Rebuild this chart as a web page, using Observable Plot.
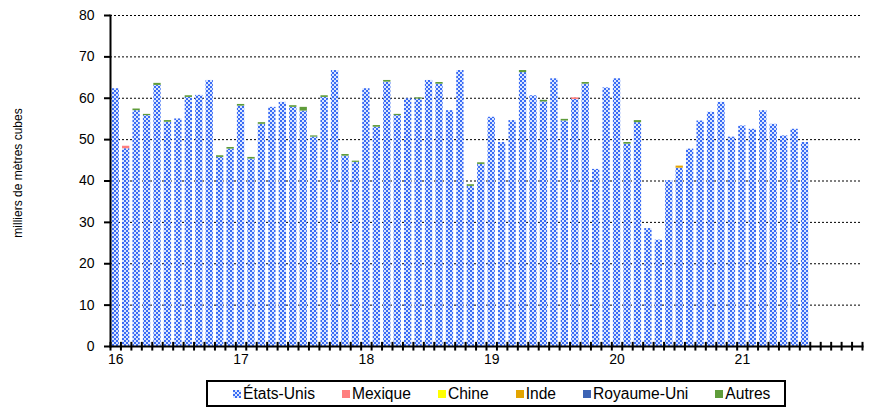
<!DOCTYPE html>
<html>
<head>
<meta charset="utf-8">
<script src="https://cdn.jsdelivr.net/npm/d3@7"></script>
<script src="https://cdn.jsdelivr.net/npm/@observablehq/plot@0.6"></script>
<style>
  html, body { margin: 0; padding: 0; background: #fff; }
  body { width: 875px; height: 411px; position: relative; font-family: "Liberation Sans", Arial, sans-serif; }
  #legend {
    position: absolute; left: 206px; top: 380px; width: 580px; height: 27px;
    box-sizing: border-box; border: 2px solid #000;
    display: flex; align-items: center; padding-left: 25px; gap: 27px;
    font-size: 15.6px; color: #000;
  }
  .item { display: flex; align-items: center; white-space: nowrap; }
  .item svg { margin-right: 2px; }
</style>
</head>
<body>
<div id="chart"></div>
<div id="legend"></div>
<script>
// ---- data ----
const years = ["16", "17", "18", "19", "20", "21"];
const series = ["États-Unis", "Mexique", "Chine", "Inde", "Royaume-Uni", "Autres"];
const seriesColors = ["url(#usHatch)", "#ff7f7f", "#ffff00", "#e3a400", "#3d64b5", "#5f9c3a"];
const yTicks = [0, 10, 20, 30, 40, 50, 60, 70, 80];
const yLabel = "milliers de mètres cubes";

// monthly values, Jan 2016 .. Jul 2021 (67 months)
const etatsUnis = [
  62.3, 47.8, 57.0, 55.8, 63.1, 54.2, 55.0, 60.2, 60.7, 64.3, 45.7, 47.7,
  58.1, 45.3, 53.7, 57.8, 59.0, 57.8, 56.9, 50.6, 60.2, 66.7, 46.0, 44.5,
  62.3, 53.0, 63.9, 55.8, 59.9, 59.8, 64.3, 63.4, 57.0, 66.7, 38.7, 44.0,
  55.4, 49.3, 54.6, 66.2, 60.6, 59.1, 64.7, 54.5, 59.7, 63.4, 42.8, 62.5,
  64.7, 48.9, 54.1, 28.5, 25.7, 40.1, 43.1, 47.7, 54.5, 56.6, 59.0, 50.6,
  53.3, 52.5, 57.0, 53.7, 50.9, 52.5, 49.3
];
const mexique = [
  0, 0.6, 0, 0, 0, 0, 0, 0, 0, 0, 0, 0,
  0, 0, 0, 0, 0, 0, 0, 0, 0, 0, 0, 0,
  0, 0, 0, 0, 0, 0, 0, 0, 0, 0, 0, 0,
  0, 0, 0, 0, 0, 0, 0, 0, 0.4, 0, 0, 0,
  0, 0, 0, 0, 0, 0, 0, 0, 0, 0, 0, 0,
  0, 0, 0, 0, 0, 0, 0
];
const chine = [
  0, 0, 0, 0, 0, 0, 0, 0, 0, 0, 0, 0,
  0, 0, 0, 0, 0, 0, 0, 0, 0, 0, 0, 0,
  0, 0, 0, 0, 0, 0, 0, 0, 0, 0, 0, 0,
  0, 0, 0, 0, 0, 0, 0, 0, 0, 0, 0, 0,
  0, 0, 0, 0, 0, 0, 0, 0, 0, 0, 0, 0,
  0, 0, 0, 0, 0, 0, 0
];
const inde = [
  0, 0, 0, 0, 0, 0, 0, 0, 0, 0, 0, 0,
  0, 0, 0, 0, 0, 0, 0, 0, 0, 0, 0, 0,
  0, 0, 0, 0, 0, 0, 0, 0, 0, 0, 0, 0,
  0, 0, 0, 0, 0, 0, 0, 0, 0, 0, 0, 0,
  0, 0, 0, 0, 0, 0, 0.5, 0, 0, 0, 0, 0,
  0, 0, 0, 0, 0, 0, 0
];
const royaumeUni = [
  0, 0, 0, 0, 0, 0, 0, 0, 0, 0, 0, 0,
  0, 0, 0, 0, 0, 0, 0, 0, 0, 0, 0, 0,
  0, 0, 0, 0, 0, 0, 0, 0, 0, 0, 0, 0,
  0, 0, 0, 0, 0, 0, 0, 0, 0, 0, 0, 0,
  0, 0, 0, 0, 0, 0, 0, 0, 0, 0, 0, 0,
  0, 0, 0, 0, 0, 0, 0
];
const autres = [
  0, 0, 0.4, 0.3, 0.5, 0.4, 0, 0.4, 0, 0, 0.4, 0.4,
  0.4, 0.4, 0.4, 0, 0, 0.4, 0.9, 0.3, 0.4, 0, 0.4, 0.3,
  0, 0.4, 0.4, 0.3, 0, 0.3, 0, 0.4, 0, 0, 0.4, 0.4,
  0, 0, 0, 0.5, 0, 0.4, 0, 0.4, 0, 0.4, 0, 0,
  0, 0.4, 0.5, 0, 0, 0, 0, 0, 0, 0, 0, 0,
  0, 0, 0, 0, 0, 0, 0
];

// ---- build table ----
const monthKeys = years.flatMap(y => d3.range(1, 13).map(m => `${y}-${String(m).padStart(2, "0")}`));
const janKeys = monthKeys.filter(k => k.endsWith("-01"));
const valuesBySeries = [etatsUnis, mexique, chine, inde, royaumeUni, autres];
const rows = series.flatMap((s, si) =>
  valuesBySeries[si].map((v, i) => ({month: monthKeys[i], series: s, value: v}))
);

const W = 875, H = 372, ML = 110, MR = 13, MT = 15, MB = 26;
const step = (W - ML - MR) / monthKeys.length;

const chart = Plot.plot({
  width: W, height: H,
  marginLeft: ML, marginRight: MR, marginTop: MT, marginBottom: MB,
  style: {fontFamily: "'Liberation Sans', Arial, sans-serif", fontSize: "14px", color: "#000", background: "#fff", overflow: "visible"},
  x: {type: "band", domain: monthKeys, paddingInner: 0.3, paddingOuter: 0.15, align: 0.5},
  y: {domain: [0, 80]},
  color: {domain: series, range: seriesColors},
  marks: [
    Plot.ruleY(yTicks.filter(t => t > 0), {y: d => d, stroke: "#000", strokeWidth: 1, strokeDasharray: "2,2"}),
    Plot.barY(rows, {x: "month", y: "value", fill: "series", order: series}),
    Plot.ruleX(monthKeys, {x: d => d, y1: -1.1, y2: 1.0, dx: -step / 2, stroke: "#000", strokeWidth: 2}),
    Plot.ruleX([monthKeys[monthKeys.length - 1]], {x: d => d, y1: -1.1, y2: 1.0, dx: step / 2, stroke: "#000", strokeWidth: 2}),
    Plot.frame({anchor: "left", stroke: "#000", strokeWidth: 2}),
    Plot.frame({anchor: "bottom", stroke: "#000", strokeWidth: 2}),
    Plot.axisY({ticks: yTicks, tickSize: 6, tickPadding: 10, strokeWidth: 2, label: null}),
    Plot.axisX({ticks: janKeys, tickFormat: k => k.slice(0, 2), tickSize: 0, tickPadding: 8, label: null}),
    Plot.text([yLabel], {frameAnchor: "left", text: d => d, dx: -92, dy: -8, rotate: -90, fontSize: 12, textAnchor: "middle"})
  ]
});

// hatch pattern for États-Unis
const defs = d3.select(chart).insert("defs", ":first-child");
const pat = defs.append("pattern").attr("id", "usHatch").attr("patternUnits", "userSpaceOnUse")
  .attr("width", 4).attr("height", 4);
pat.append("rect").attr("width", 4).attr("height", 4).attr("fill", "#dbe6ff");
pat.append("rect").attr("x", 0).attr("y", 0).attr("width", 2).attr("height", 2).attr("fill", "#3a6cf4");
pat.append("rect").attr("x", 2).attr("y", 2).attr("width", 2).attr("height", 2).attr("fill", "#3a6cf4");

document.getElementById("chart").appendChild(chart);

// legend
const legend = d3.select("#legend");
series.forEach((s, i) => {
  const item = legend.append("div").attr("class", "item");
  item.append("svg").attr("width", 8).attr("height", 8)
    .append("rect").attr("width", 8).attr("height", 8).attr("fill", seriesColors[i]);
  item.append("span").text(s);
});
</script>
</body>
</html>
